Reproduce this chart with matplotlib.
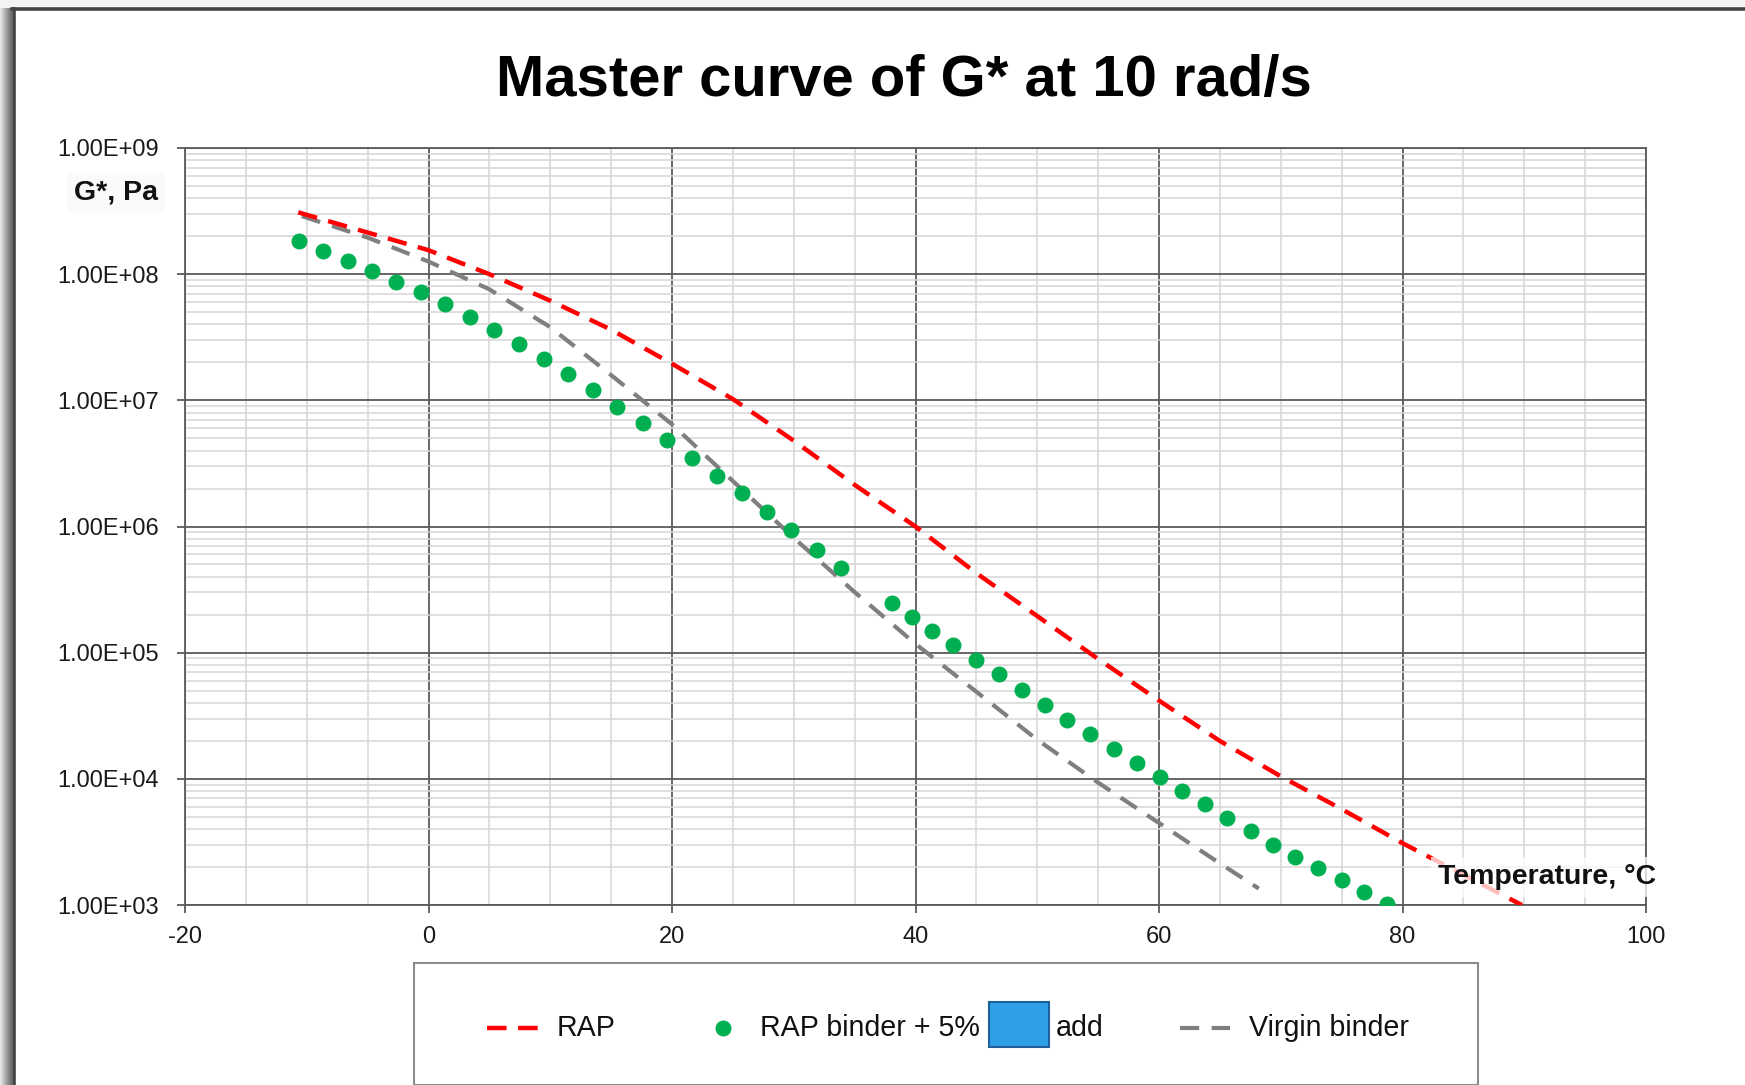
import matplotlib
matplotlib.use("Agg")
import matplotlib.pyplot as plt
from matplotlib.lines import Line2D
from matplotlib.patches import Rectangle
from matplotlib.ticker import FixedLocator, LogLocator, NullFormatter
import numpy as np

# ---------------- data ----------------
rap_T = [-10.7, -5, 0, 5, 10, 15, 20, 25, 30, 35, 40, 45, 50, 55, 60, 65, 70, 75, 80, 85, 89.8]
rap_logG = [8.49, 8.33, 8.19, 8.00, 7.79, 7.56, 7.29, 7.01, 6.68, 6.33, 6.00, 5.63, 5.29, 4.95,
            4.62, 4.30, 4.02, 3.76, 3.49, 3.24, 3.00]

mix_T = [-10.64, -8.63, -6.62, -4.62, -2.64, -0.63, 1.35, 3.39, 5.37, 7.44, 9.45, 11.49, 13.5,
         15.45, 17.58, 19.56, 21.66, 23.67, 25.75, 27.77, 29.78, 31.87, 33.88,
         38.06, 39.7, 41.39, 43.1, 45.0, 46.85, 48.75, 50.62, 52.45, 54.36, 56.3, 58.17,
         60.07, 61.87, 63.77, 65.6, 67.55, 69.34, 71.2, 73.1, 75.0, 76.85, 78.75]
mix_logG = [8.26, 8.186, 8.104, 8.027, 7.937, 7.855, 7.763, 7.657, 7.559, 7.448, 7.329, 7.21, 7.078,
            6.951, 6.822, 6.682, 6.544, 6.404, 6.262, 6.118, 5.97, 5.817, 5.669,
            5.392, 5.279, 5.172, 5.06, 4.938, 4.828, 4.708, 4.586, 4.47, 4.356, 4.24, 4.126,
            4.012, 3.907, 3.797, 3.692, 3.585, 3.479, 3.38, 3.29, 3.195, 3.102, 3.005]

vir_T = [-10.4, -5, 0, 5, 10, 15, 20, 25, 30, 35, 40, 45, 50, 55, 60, 65, 68.2]
vir_logG = [8.46, 8.29, 8.10, 7.88, 7.58, 7.20, 6.81, 6.36, 5.91, 5.48, 5.07, 4.69, 4.31,
            3.97, 3.65, 3.33, 3.13]

x_ticks = [-20, 0, 20, 40, 60, 80, 100]
y_ticks = [1e3, 1e4, 1e5, 1e6, 1e7, 1e8, 1e9]
y_tick_labels = ["1.00E+03", "1.00E+04", "1.00E+05", "1.00E+06", "1.00E+07", "1.00E+08", "1.00E+09"]

title = "Master curve of G* at 10 rad/s"
legend_names = ["RAP", "RAP binder + 5%", "add", "Virgin binder"]

# ---------------- figure ----------------
W, H = 1745, 1085
plt.rcParams['font.family'] = ['Liberation Sans', 'DejaVu Sans']
fig = plt.figure(figsize=(W / 100, H / 100), dpi=100)
fig.patch.set_facecolor('#f3f3f3')

def fx(x):
    return x / W

def fy(y):
    return 1 - y / H

RED_DASH = (0, (4.4, 2.6))
GRAY_DASH = (0, (4.6, 3.0))

# page shadow on left
for i, c in enumerate(['#e6e6e6', '#dcdcdc', '#d0d0d0', '#c4c4c4', '#b8b8b8', '#acacac',
                       '#a0a0a0', '#959595', '#8a8a8a', '#808080', '#777777', '#6f6f6f']):
    fig.patches.append(Rectangle((fx(i), 0), fx(1), fy(8), transform=fig.transFigure,
                                 facecolor=c, edgecolor='none', zorder=0))
# white page with dark frame (left & top visible)
fig.patches.append(Rectangle((fx(12), 0), 1, fy(8), transform=fig.transFigure,
                             facecolor='white', edgecolor='none', zorder=0.5))
fig.add_artist(Line2D([fx(13.5), fx(13.5)], [0, fy(8.5)], transform=fig.transFigure,
                      color='#444444', lw=2.6, zorder=1))
fig.add_artist(Line2D([fx(12), 1], [fy(8.5), fy(8.5)], transform=fig.transFigure,
                      color='#444444', lw=2.6, zorder=1))

ax = fig.add_axes([fx(185), fy(905), fx(1646) - fx(185), fy(148) - fy(905)])
ax.set_facecolor('white')
ax.set_zorder(2)

ax.plot(vir_T, np.power(10.0, vir_logG), color='#7f7f7f', lw=3.0, ls=GRAY_DASH,
        dash_capstyle='butt', zorder=3)
ax.plot(rap_T, np.power(10.0, rap_logG), color='#ff0000', lw=3.2, ls=RED_DASH,
        dash_capstyle='butt', zorder=4)
ax.plot(mix_T, np.power(10.0, mix_logG), ls='none', marker='o', ms=10.5, color='#00b050',
        mec='#00b050', zorder=5)

ax.set_yscale('log')
ax.set_xlim(-20, 100)
ax.set_ylim(1e3, 1e9)
ax.xaxis.set_major_locator(FixedLocator(x_ticks))
ax.xaxis.set_minor_locator(FixedLocator(np.arange(-20, 101, 5)))
ax.yaxis.set_major_locator(FixedLocator(y_ticks))
ax.yaxis.set_minor_locator(LogLocator(base=10, subs=np.arange(2, 10)))
ax.yaxis.set_minor_formatter(NullFormatter())
ax.set_yticklabels(y_tick_labels)
ax.set_xticklabels([str(v) for v in x_ticks])

ax.grid(which='minor', color='#d6d6d6', lw=1.1)
ax.grid(which='major', color='#5a5a5a', lw=1.3)
ax.set_axisbelow(True)
for s in ax.spines.values():
    s.set_color('#5a5a5a')
    s.set_linewidth(1.3)
ax.tick_params(which='major', length=6, width=1.3, color='#5a5a5a', labelsize=17,
               labelcolor='#1a1a1a')
ax.tick_params(axis='x', which='major', pad=9)
ax.tick_params(axis='y', which='major', pad=13)
ax.tick_params(which='minor', length=0)

# axis label texts
fig.text(fx(116), fy(193), "G*, Pa", ha='center', va='center', fontsize=20.5, fontweight='bold',
         color='#111111', zorder=10,
         bbox=dict(boxstyle='square,pad=0.25', facecolor='#fafafa', edgecolor='none'))
ax.text(fx(1547), fy(877), "Temperature, °C", transform=fig.transFigure, ha='center',
        va='center', fontsize=20.5, fontweight='bold', color='#111111', zorder=10,
        bbox=dict(boxstyle='square,pad=0.25', facecolor='white', alpha=0.75, edgecolor='none'))

fig.text(fx(904), fy(81), title, ha='center', va='center', fontsize=41.8, fontweight='bold',
         color='black')

# ---------------- legend box ----------------
fig.patches.append(Rectangle((fx(414), 0), fx(1478) - fx(414), fy(963), transform=fig.transFigure,
                             facecolor='white', edgecolor='#8c8c8c', lw=1.5, zorder=2))
ly = fy(1028)
fs_leg = 20.6
fig.add_artist(Line2D([fx(487), fx(540)], [ly, ly], transform=fig.transFigure, color='#ff0000',
                      lw=3.2, ls=RED_DASH, zorder=3))
fig.text(fx(557), ly, legend_names[0], ha='left', va='center', fontsize=fs_leg, color='#111111', zorder=3)
fig.add_artist(Line2D([fx(723)], [ly], transform=fig.transFigure, ls='none', marker='o', ms=10.5,
                      color='#00b050', zorder=3))
fig.text(fx(760), ly, legend_names[1], ha='left', va='center', fontsize=fs_leg, color='#111111', zorder=3)
fig.patches.append(Rectangle((fx(989), fy(1047)), fx(1049) - fx(989), fy(1002) - fy(1047),
                             transform=fig.transFigure, facecolor='#2f9fe8', edgecolor='#1f5f9a',
                             lw=1.5, zorder=3))
fig.text(fx(1056), ly, legend_names[2], ha='left', va='center', fontsize=fs_leg, color='#111111', zorder=3)
fig.add_artist(Line2D([fx(1180), fx(1230)], [ly, ly], transform=fig.transFigure, color='#7f7f7f',
                      lw=3.0, ls=GRAY_DASH, zorder=3))
fig.text(fx(1249), ly, legend_names[3], ha='left', va='center', fontsize=fs_leg, color='#111111', zorder=3)

fig.savefig("out.png", dpi=100, facecolor=fig.get_facecolor())
